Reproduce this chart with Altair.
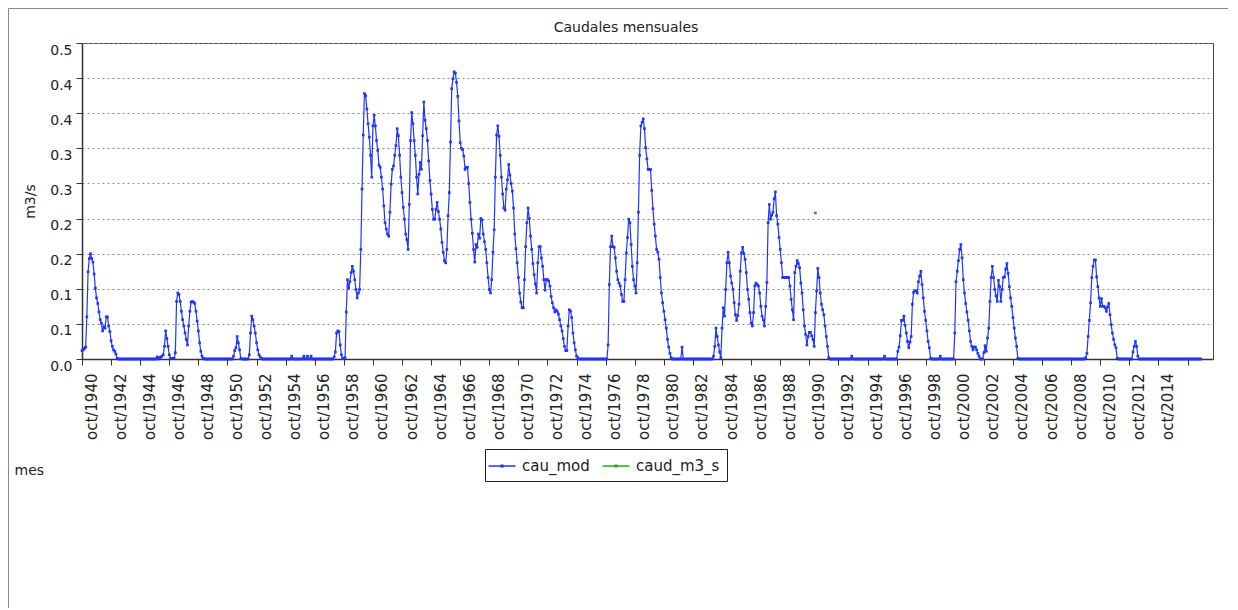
import json
import altair as alt
import pandas as pd

# Monthly flow (m3/s), hydrological years starting in October 1940
q1940s = [
    0.012, 0.013, 0.015, 0.017, 0.060, 0.124, 0.143, 0.150, 0.143, 0.138, 0.121, 0.101,
    0.087, 0.079, 0.067, 0.056, 0.051, 0.040, 0.046, 0.044, 0.060, 0.060, 0.047, 0.039,
    0.026, 0.018, 0.013, 0.011, 0.007, 0.001, 0, 0, 0, 0, 0, 0,
    0, 0, 0, 0, 0, 0, 0, 0, 0, 0, 0, 0,
    0, 0, 0, 0, 0, 0, 0, 0, 0, 0, 0, 0,
    0, 0, 0.003, 0, 0.002, 0.003, 0.004, 0.006, 0.018, 0.040, 0.029, 0.018,
    0.006, 0.001, 0.001, 0.001, 0.001, 0.009, 0.082, 0.094, 0.092, 0.082, 0.068, 0.056,
    0.047, 0.037, 0.028, 0.020, 0.047, 0.068, 0.081, 0.082, 0.081, 0.079, 0.068, 0.054,
    0.040, 0.023, 0.011, 0.004, 0.001, 0, 0, 0, 0, 0, 0, 0,
    0, 0, 0, 0, 0, 0, 0, 0, 0, 0, 0, 0,
]
q1950s = [
    0, 0, 0, 0, 0, 0.004, 0.012, 0.016, 0.032, 0.023, 0.013, 0.001,
    0, 0, 0, 0, 0, 0, 0.006, 0.037, 0.061, 0.056, 0.047, 0.037,
    0.023, 0.013, 0.006, 0.003, 0.001, 0, 0, 0, 0, 0, 0, 0,
    0, 0, 0, 0, 0, 0, 0, 0, 0, 0, 0, 0,
    0, 0, 0, 0, 0, 0.004, 0, 0, 0, 0, 0, 0,
    0, 0, 0, 0.004, 0, 0, 0.004, 0, 0, 0.004, 0, 0,
    0, 0, 0, 0, 0, 0, 0, 0, 0, 0, 0, 0,
    0, 0, 0, 0, 0.003, 0.010, 0.037, 0.040, 0.039, 0.020, 0.006, 0.001,
    0.001, 0.002, 0.067, 0.113, 0.101, 0.110, 0.123, 0.132, 0.125, 0.113, 0.099, 0.087,
    0.094, 0.099, 0.156, 0.242, 0.319, 0.378, 0.375, 0.356, 0.335, 0.316, 0.290, 0.259,
]
q1960s = [
    0.332, 0.347, 0.332, 0.311, 0.297, 0.276, 0.273, 0.259, 0.242, 0.218, 0.194, 0.185,
    0.178, 0.175, 0.209, 0.249, 0.270, 0.275, 0.290, 0.304, 0.328, 0.318, 0.290, 0.259,
    0.237, 0.216, 0.199, 0.178, 0.170, 0.156, 0.220, 0.311, 0.351, 0.335, 0.311, 0.290,
    0.259, 0.235, 0.263, 0.280, 0.270, 0.318, 0.366, 0.340, 0.328, 0.311, 0.282, 0.254,
    0.235, 0.213, 0.199, 0.199, 0.213, 0.223, 0.210, 0.199, 0.185, 0.166, 0.152, 0.140,
    0.137, 0.156, 0.204, 0.237, 0.309, 0.385, 0.399, 0.409, 0.407, 0.394, 0.374, 0.339,
    0.308, 0.300, 0.298, 0.289, 0.270, 0.273, 0.273, 0.250, 0.223, 0.199, 0.179, 0.156,
    0.138, 0.163, 0.159, 0.178, 0.172, 0.200, 0.198, 0.178, 0.167, 0.156, 0.137, 0.116,
    0.099, 0.094, 0.113, 0.152, 0.184, 0.259, 0.319, 0.332, 0.317, 0.290, 0.259, 0.235,
    0.215, 0.212, 0.242, 0.255, 0.277, 0.262, 0.250, 0.239, 0.215, 0.178, 0.157, 0.137,
]
q1970s = [
    0.116, 0.094, 0.081, 0.073, 0.073, 0.113, 0.160, 0.194, 0.215, 0.200, 0.175, 0.156,
    0.136, 0.120, 0.107, 0.094, 0.137, 0.160, 0.160, 0.144, 0.132, 0.113, 0.098, 0.113,
    0.113, 0.111, 0.104, 0.089, 0.080, 0.073, 0.067, 0.070, 0.068, 0.064, 0.056, 0.047,
    0.040, 0.029, 0.018, 0.012, 0.012, 0.047, 0.070, 0.068, 0.059, 0.037, 0.023, 0.013,
    0.004, 0.002, 0, 0, 0, 0, 0, 0, 0, 0, 0, 0,
    0, 0, 0, 0, 0, 0, 0, 0, 0, 0, 0, 0,
    0, 0, 0.020, 0.106, 0.160, 0.175, 0.160, 0.159, 0.144, 0.125, 0.113, 0.108,
    0.104, 0.092, 0.082, 0.082, 0.113, 0.151, 0.173, 0.199, 0.194, 0.163, 0.132, 0.113,
    0.104, 0.094, 0.137, 0.209, 0.290, 0.332, 0.337, 0.342, 0.328, 0.301, 0.285, 0.270,
    0.270, 0.270, 0.240, 0.214, 0.192, 0.175, 0.156, 0.152, 0.142, 0.116, 0.094, 0.080,
]
q1980s = [
    0.068, 0.056, 0.044, 0.028, 0.017, 0.008, 0.002, 0, 0, 0, 0, 0,
    0, 0, 0, 0.017, 0, 0, 0, 0, 0, 0, 0, 0,
    0, 0, 0, 0, 0, 0, 0, 0, 0, 0, 0, 0,
    0, 0, 0, 0, 0, 0.004, 0.018, 0.044, 0.032, 0.020, 0.010, 0.002,
    0.044, 0.073, 0.061, 0.099, 0.137, 0.152, 0.137, 0.118, 0.108, 0.099, 0.080, 0.063,
    0.055, 0.062, 0.078, 0.125, 0.151, 0.159, 0.150, 0.142, 0.123, 0.099, 0.085, 0.066,
    0.051, 0.047, 0.066, 0.104, 0.108, 0.106, 0.104, 0.094, 0.075, 0.061, 0.056, 0.047,
    0.075, 0.109, 0.194, 0.220, 0.199, 0.205, 0.209, 0.228, 0.238, 0.204, 0.192, 0.173,
    0.156, 0.137, 0.116, 0.116, 0.116, 0.116, 0.116, 0.116, 0.104, 0.085, 0.070, 0.056,
    0.123, 0.132, 0.140, 0.136, 0.130, 0.108, 0.094, 0.070, 0.047, 0.035, 0.020, 0.032,
]
q1990s = [
    0.038, 0.038, 0.033, 0.028, 0.018, 0.066, 0.097, 0.129, 0.116, 0.094, 0.078, 0.070,
    0.063, 0.047, 0.032, 0.018, 0.002, 0, 0, 0, 0, 0, 0, 0,
    0, 0, 0, 0, 0, 0, 0, 0, 0, 0, 0, 0.004,
    0, 0, 0, 0, 0, 0, 0, 0, 0, 0, 0, 0,
    0, 0, 0, 0, 0, 0, 0, 0, 0, 0, 0, 0,
    0, 0, 0.004, 0, 0, 0, 0, 0, 0, 0, 0, 0,
    0, 0.011, 0.017, 0.033, 0.055, 0.055, 0.061, 0.048, 0.037, 0.025, 0.016, 0.024,
    0.032, 0.078, 0.095, 0.097, 0.097, 0.094, 0.110, 0.118, 0.125, 0.106, 0.087, 0.068,
    0.055, 0.040, 0.025, 0.016, 0.001, 0, 0, 0, 0, 0, 0, 0,
    0.004, 0, 0, 0, 0, 0, 0, 0, 0, 0, 0, 0,
]
q2000s = [
    0.037, 0.110, 0.125, 0.140, 0.156, 0.163, 0.144, 0.113, 0.094, 0.079, 0.067, 0.055,
    0.040, 0.025, 0.018, 0.013, 0.017, 0.017, 0.013, 0.008, 0.004, 0, 0, 0,
    0.009, 0.019, 0.011, 0.030, 0.044, 0.082, 0.116, 0.132, 0.116, 0.099, 0.090, 0.082,
    0.112, 0.103, 0.082, 0.099, 0.116, 0.117, 0.128, 0.136, 0.122, 0.103, 0.087, 0.075,
    0.059, 0.044, 0.030, 0.018, 0.001, 0, 0, 0, 0, 0, 0, 0,
    0, 0, 0, 0, 0, 0, 0, 0, 0, 0, 0, 0,
    0, 0, 0, 0, 0, 0, 0, 0, 0, 0, 0, 0,
    0, 0, 0, 0, 0, 0, 0, 0, 0, 0, 0, 0,
    0, 0, 0, 0, 0, 0, 0, 0, 0, 0, 0, 0,
    0.002, 0.008, 0.032, 0.055, 0.080, 0.116, 0.132, 0.141, 0.141, 0.117, 0.103, 0.087,
]
q2010s = [
    0.075, 0.086, 0.075, 0.075, 0.073, 0.068, 0.074, 0.079, 0.063, 0.049, 0.037, 0.028,
    0.020, 0.016, 0.001, 0, 0, 0, 0, 0, 0, 0, 0, 0,
    0, 0, 0, 0.010, 0.018, 0.025, 0.018, 0.004, 0, 0, 0, 0,
    0, 0, 0, 0, 0, 0, 0, 0, 0, 0, 0, 0,
    0, 0, 0, 0, 0, 0, 0, 0, 0, 0, 0, 0,
    0, 0, 0, 0, 0, 0, 0, 0, 0, 0, 0, 0,
    0, 0, 0, 0, 0, 0, 0, 0, 0, 0, 0, 0,
]
cau_mod = q1940s + q1950s + q1960s + q1970s + q1980s + q1990s + q2000s + q2010s

# observed series: a single value
caud_months = [605]
caud_values = [0.208]

series_names = ["cau_mod", "caud_m3_s"]
series_colors = ["#1f35ff", "#1faa1f"]

chart_title = "Caudales mensuales"
y_ticks = [0, 0.05, 0.10, 0.15, 0.20, 0.25, 0.30, 0.35, 0.40, 0.45]
y_tick_labels = ["0.0", "0.1", "0.1", "0.2", "0.2", "0.3", "0.3", "0.4", "0.4", "0.5"]
x_tick_months = list(range(0, 913, 24))
x_tick_labels = ["oct/%d" % (1940 + 2 * i) for i in range(38)] + [""]

df = pd.DataFrame({
    "mes": list(range(len(cau_mod))) + caud_months,
    "valor": cau_mod + caud_values,
    "serie": [series_names[0]] * len(cau_mod) + [series_names[1]] * len(caud_values),
})

FONT = "DejaVu Sans"
TXT = "#222222"

x_axis = alt.Axis(
    values=x_tick_months,
    labelExpr=json.dumps(x_tick_labels) + "[round(datum.value / 24)]",
    labelAngle=270, labelFont=FONT, labelFontSize=15, labelColor=TXT,
    labelPadding=8, labelOffset=9, labelOverlap=False,
    grid=False, tickSize=6, tickColor="#333333",
    domainColor="#333333", domainWidth=1.5,
    title="mes", titleFont=FONT, titleFontSize=14, titleFontWeight="normal",
    titleColor=TXT, titleAngle=0, titleAlign="left", titleBaseline="middle",
    titleX=-68, titleY=111,
)
y_axis = alt.Axis(
    values=y_ticks,
    labelExpr=json.dumps(y_tick_labels) + "[round(datum.value * 20)]",
    labelFont=FONT, labelFontSize=14, labelColor=TXT, labelBaseline="top",
    labelPadding=4, tickSize=6, tickColor="#333333",
    domainColor="#333333", domainWidth=1.5,
    grid=True, gridDash=[2, 3], gridColor="#8c8c8c", gridWidth=1,
    title="m3/s", titleFont=FONT, titleFontSize=14, titleFontWeight="normal",
    titleColor=TXT, titlePadding=12,
)

legend_symbol = "M-1.5,0L1.5,0M-0.1,-0.1L0.1,-0.1L0.1,0.1L-0.1,0.1Z"

lines = alt.Chart(df).mark_line(
    strokeWidth=1.2,
    point=alt.OverlayMarkDef(shape="square", size=7, filled=True),
).encode(
    x=alt.X("mes:Q", scale=alt.Scale(domain=[0, 933], nice=False, zero=False), axis=x_axis),
    y=alt.Y("valor:Q", scale=alt.Scale(domain=[0, 0.45], nice=False), axis=y_axis),
    color=alt.Color(
        "serie:N",
        scale=alt.Scale(domain=series_names, range=series_colors),
        legend=alt.Legend(
            title=None, orient="none", legendX=403, legendY=406,
            direction="horizontal", strokeColor="#222222", padding=7,
            symbolType=legend_symbol, symbolSize=324, symbolStrokeWidth=1.3,
            labelFont=FONT, labelFontSize=15, labelColor=TXT,
            labelOffset=10, columnPadding=9,
        ),
    ),
    order="mes:Q",
)

frame_data = alt.Data(values=[{"f": 1}])
frame_left = alt.Chart(frame_data).mark_rule(color="#8a8a8a", strokeWidth=1).encode(
    x=alt.value(-73.5), y=alt.value(-34.5), y2=alt.value(570)
)
frame_top = alt.Chart(frame_data).mark_rule(color="#8a8a8a", strokeWidth=1).encode(
    x=alt.value(-73.5), x2=alt.value(1160), y=alt.value(-34.5)
)
title_text = alt.Chart(frame_data).mark_text(
    font=FONT, fontSize=14, color=TXT, align="center", baseline="middle"
).encode(
    x=alt.value(544), y=alt.value(-15), text=alt.value(chart_title)
)

chart = alt.layer(frame_left, frame_top, title_text, lines).properties(
    width=1131,
    height=316,
    autosize=alt.AutoSizeParams(type="none"),
    padding={"left": 74, "top": 35, "right": 15, "bottom": 249},
).configure_view(stroke="#444444", strokeWidth=1)

chart.save("out.html", embed_options={"renderer": "svg", "actions": False})
